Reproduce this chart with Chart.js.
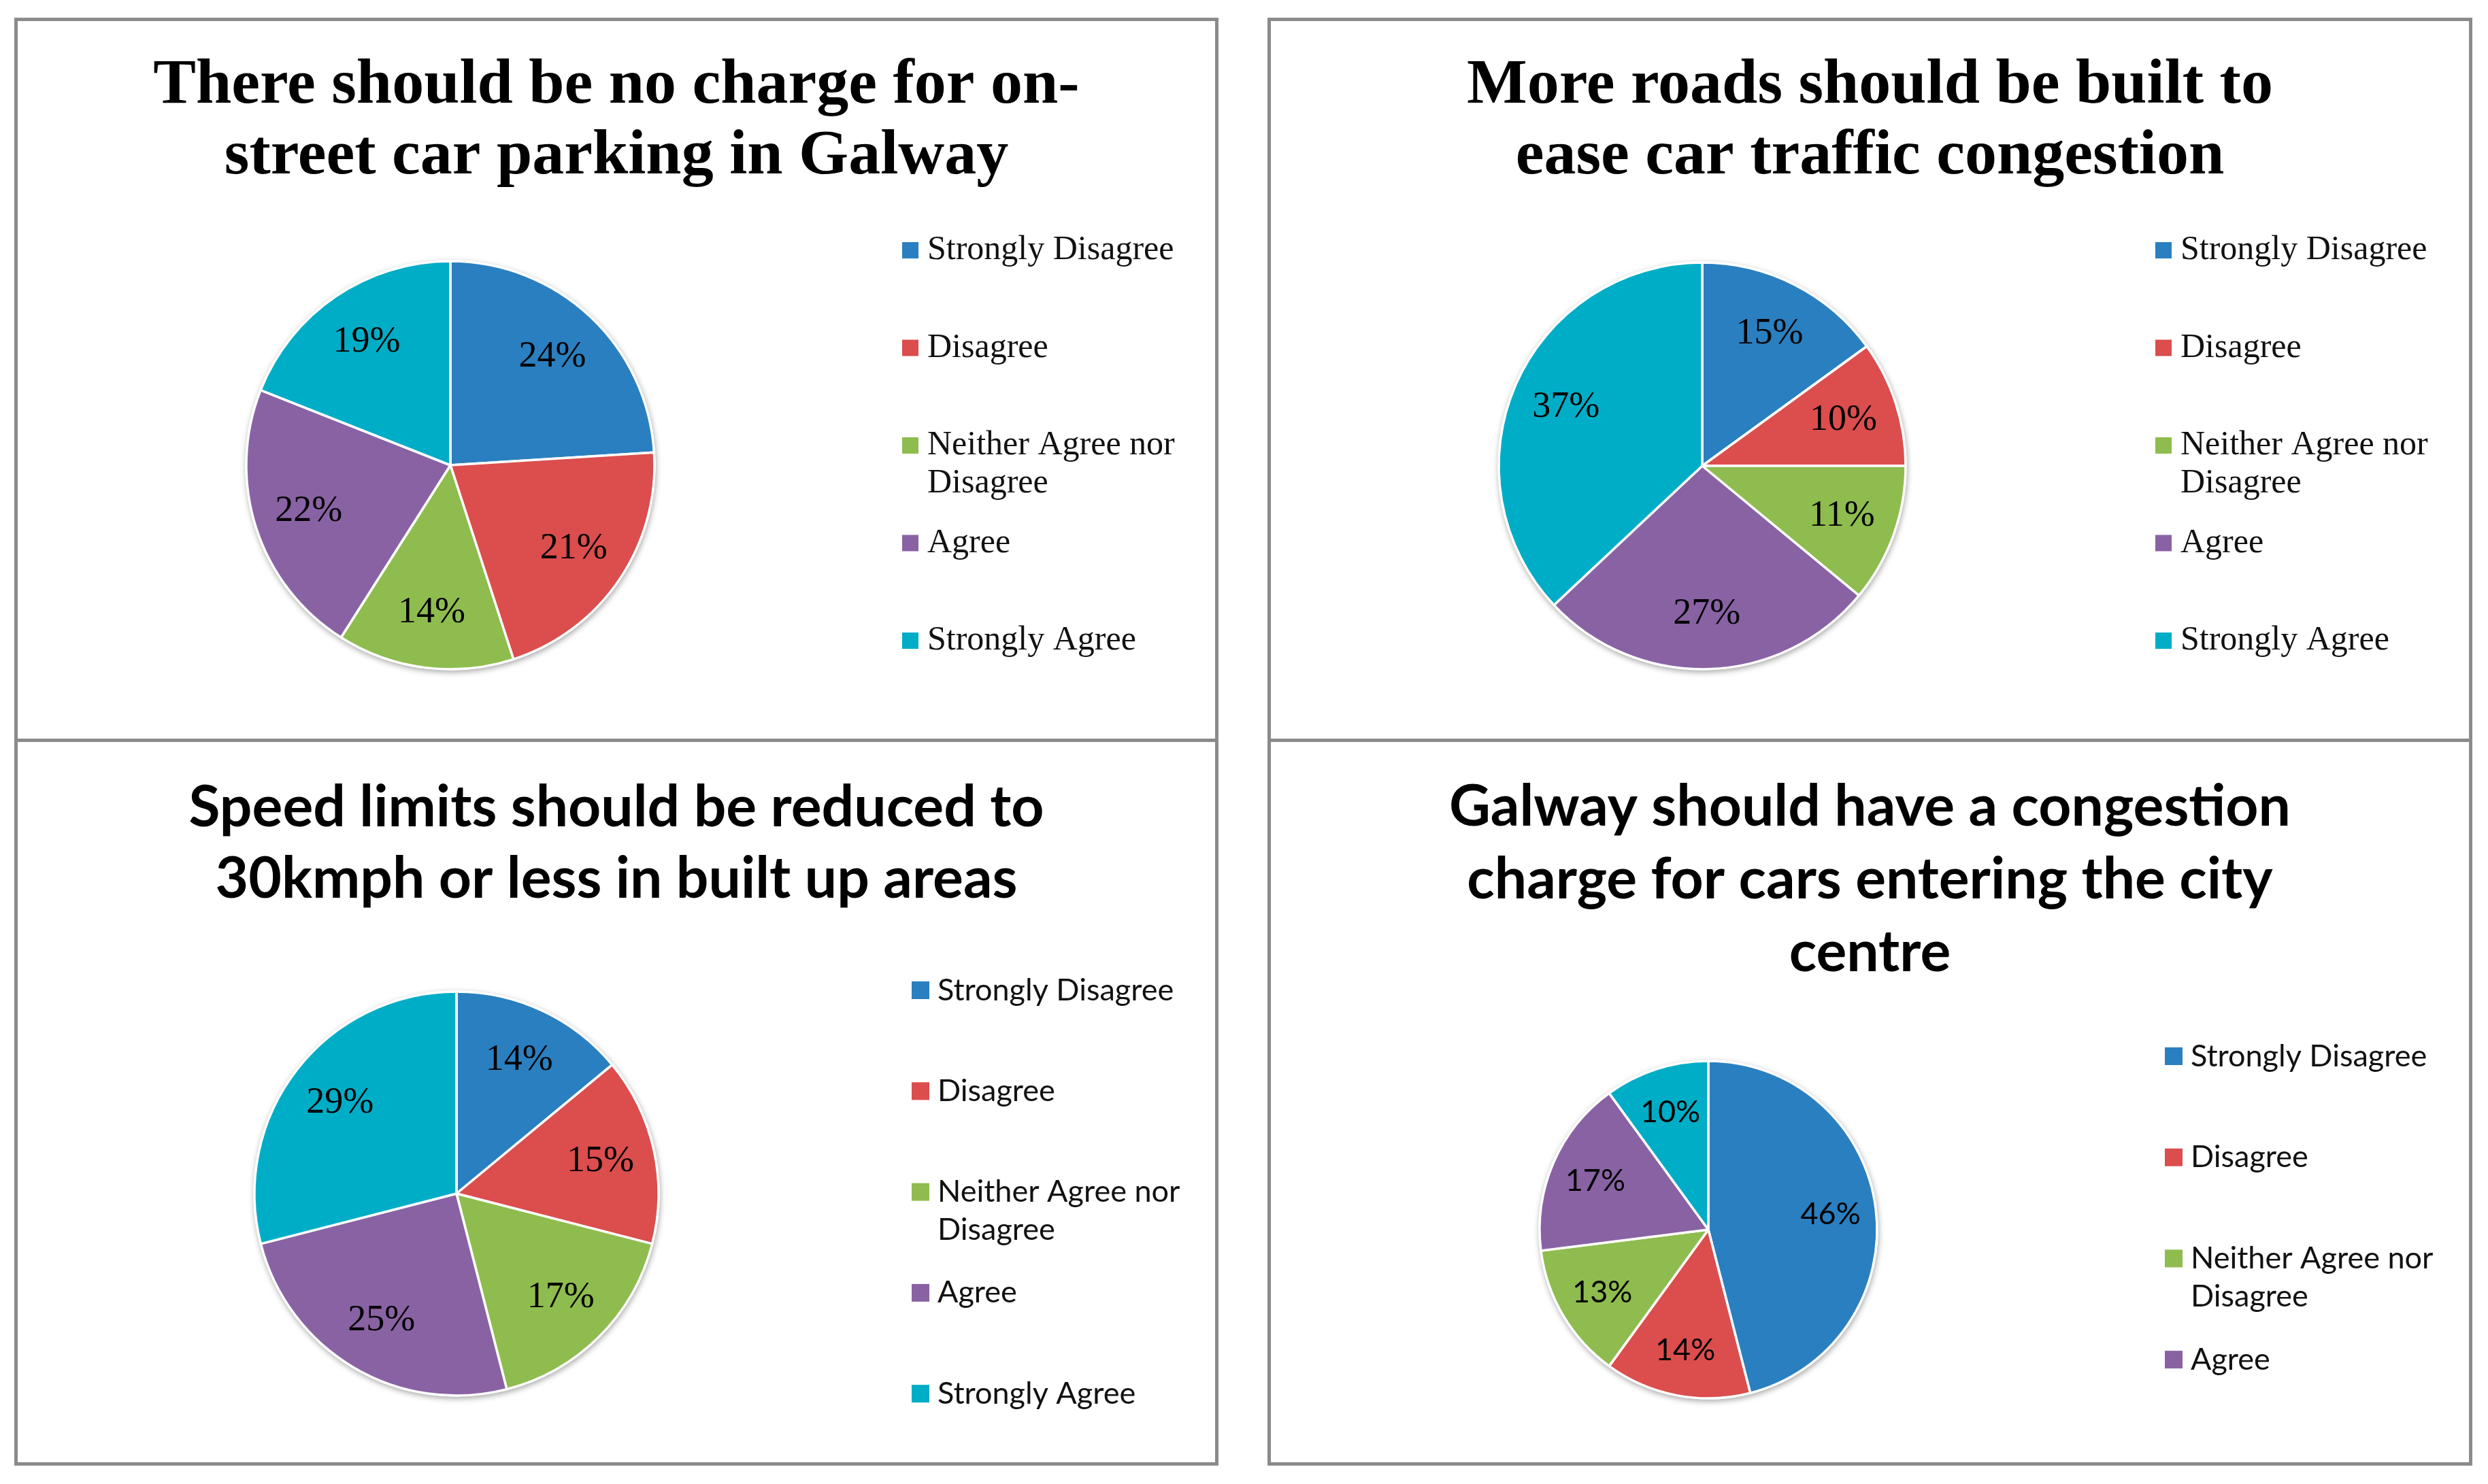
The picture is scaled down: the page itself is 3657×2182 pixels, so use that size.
<!DOCTYPE html>
<html>
<head>
<meta charset="utf-8">
<script src="https://cdn.jsdelivr.net/npm/chart.js@4.4.1/dist/chart.umd.min.js"></script>
<style>
  html, body { margin: 0; padding: 0; background: #fff; }
  body { width: 3657px; height: 2182px; position: relative; overflow: hidden; }
  .panel { position: absolute; box-sizing: border-box; border: 5px solid #8b8b8b; background: #fff; }
  .panel canvas { position: absolute; left: 0; top: 0; }
</style>
</head>
<body>
<div class="panel" id="p1" style="left:21px;top:26px;width:1770px;height:1068px"><canvas id="c1"></canvas></div>
<div class="panel" id="p2" style="left:1863px;top:26px;width:1771px;height:1068px"><canvas id="c2"></canvas></div>
<div class="panel" id="p3" style="left:21px;top:1086px;width:1770px;height:1069px"><canvas id="c3"></canvas></div>
<div class="panel" id="p4" style="left:1863px;top:1086px;width:1771px;height:1069px"><canvas id="c4"></canvas></div>

<script>
// answers, in the order the slices run clockwise from 12 o'clock
const categories = ["Strongly Disagree", "Disagree", "Neither Agree nor Disagree", "Agree", "Strongly Agree"];

const parkingTitle = ["There should be no charge for on-", "street car parking in Galway"];
const parkingValues = [24, 21, 14, 22, 19];

const roadsTitle = ["More roads should be built to", "ease car traffic congestion"];
const roadsValues = [15, 10, 11, 27, 37];

const speedTitle = ["Speed limits should be reduced to", "30kmph or less in built up areas"];
const speedValues = [14, 15, 17, 25, 29];

const congestionTitle = ["Galway should have a congestion", "charge for cars entering the city", "centre"];
const congestionValues = [46, 14, 13, 17, 10];

const colors = ["#2a7fc0", "#dc4d4d", "#8fbc4e", "#8962a4", "#00adc6"];

const serif = "'Liberation Serif', 'DejaVu Serif', serif";
const sans = "Lato, 'Open Sans', sans-serif";

function wrapText(ctx, text, maxWidth) {
  const words = text.split(" ");
  const lines = [];
  let line = "";
  words.forEach((w) => {
    const test = line ? line + " " + w : w;
    if (line && ctx.measureText(test).width > maxWidth) {
      lines.push(line);
      line = w;
    } else {
      line = test;
    }
  });
  lines.push(line);
  return lines;
}

function shadowPlugin() {
  return {
    id: "pieShadow",
    beforeDatasetsDraw(chart) {
      const arc = chart.getDatasetMeta(0).data[0];
      const p = arc.getProps(["x", "y", "outerRadius"], true);
      const ctx = chart.ctx;
      ctx.save();
      ctx.shadowColor = "rgba(0,0,0,0.35)";
      ctx.shadowBlur = 9;
      ctx.shadowOffsetX = 1;
      ctx.shadowOffsetY = 3;
      ctx.fillStyle = "#fff";
      ctx.beginPath();
      ctx.arc(p.x, p.y, p.outerRadius + 1.5, 0, Math.PI * 2);
      ctx.fill();
      ctx.restore();
    },
  };
}

function titlePlugin(text, t) {
  return {
    id: "panelTitle",
    afterDraw(chart) {
      const ctx = chart.ctx;
      ctx.save();
      ctx.fillStyle = "#000";
      ctx.font = `bold ${t.size}px ${t.family}`;
      ctx.textAlign = "center";
      ctx.textBaseline = "alphabetic";
      text.forEach((line, i) => {
        ctx.fillText(line, chart.width / 2, t.baseline + i * t.lineHeight);
      });
      ctx.restore();
    },
  };
}

function labelsPlugin(values, l) {
  return {
    id: "pctLabels",
    afterDatasetsDraw(chart) {
      const ctx = chart.ctx;
      const meta = chart.getDatasetMeta(0);
      ctx.save();
      ctx.font = `${l.size}px ${l.family}`;
      ctx.fillStyle = "#000";
      ctx.textAlign = "center";
      ctx.textBaseline = "middle";
      meta.data.forEach((arc, i) => {
        const p = arc.getProps(["x", "y", "startAngle", "endAngle", "outerRadius"], true);
        const mid = (p.startAngle + p.endAngle) / 2;
        const d = p.outerRadius * 0.73;
        ctx.fillText(values[i] + "%", p.x + Math.cos(mid) * d, p.y + Math.sin(mid) * d);
      });
      ctx.restore();
    },
  };
}

function legendPlugin(g) {
  return {
    id: "sideLegend",
    afterDraw(chart) {
      const ctx = chart.ctx;
      const fills = chart.data.datasets[0].backgroundColor;
      ctx.save();
      ctx.font = `${g.size}px ${g.family}`;
      ctx.textAlign = "left";
      ctx.textBaseline = "middle";
      chart.data.labels.slice(0, g.count).forEach((label, i) => {
        const y = g.y0 + i * g.step;
        ctx.fillStyle = fills[i];
        ctx.fillRect(g.markerX, y - g.box / 2, g.box, g.box);
        ctx.fillStyle = "#111";
        wrapText(ctx, label, g.maxWidth).forEach((line, j) => {
          ctx.fillText(line, g.textX, y + j * g.lineStep);
        });
      });
      ctx.restore();
    },
  };
}

function makePie(id, title, values, s) {
  const el = document.getElementById(id);
  const box = el.parentElement;
  const ox = box.offsetLeft + 5;
  const oy = box.offsetTop + 5;
  const cw = box.offsetWidth - 10;
  const ch = box.offsetHeight - 10;
  el.width = cw;
  el.height = ch;
  el.style.width = cw + "px";
  el.style.height = ch + "px";

  const cx = s.cx - ox;
  const cy = s.cy - oy;
  const m = 12;

  return new Chart(el, {
    type: "pie",
    data: {
      labels: categories,
      datasets: [
        {
          data: values,
          backgroundColor: colors,
          borderColor: "#ffffff",
          borderWidth: 3.5,
          radius: s.r,
          hoverOffset: 0,
        },
      ],
    },
    options: {
      responsive: false,
      animation: false,
      devicePixelRatio: 1,
      layout: {
        padding: {
          left: cx - s.r - m,
          right: cw - (cx + s.r + m),
          top: cy - s.r - m,
          bottom: ch - (cy + s.r + m),
        },
      },
      plugins: {
        legend: { display: false },
        tooltip: { enabled: false },
      },
    },
    plugins: [
      shadowPlugin(),
      labelsPlugin(values, s.labels),
      titlePlugin(title, { ...s.title, baseline: s.title.baseline - oy }),
      legendPlugin({
        ...s.legend,
        markerX: s.legend.markerX - ox,
        textX: s.legend.textX - ox,
        y0: s.legend.y0 - oy,
      }),
    ],
  });
}

makePie("c1", parkingTitle, parkingValues, {
  cx: 662, cy: 684, r: 300,
  title: { family: serif, size: 94, baseline: 151, lineHeight: 104 },
  labels: { family: serif, size: 54 },
  legend: { family: serif, size: 50, markerX: 1326, textX: 1363, box: 24, y0: 368, step: 143.5, lineStep: 56, maxWidth: 410, count: 5 },
});

makePie("c2", roadsTitle, roadsValues, {
  cx: 2502, cy: 685, r: 299,
  title: { family: serif, size: 94, baseline: 151, lineHeight: 104 },
  labels: { family: serif, size: 54 },
  legend: { family: serif, size: 50, markerX: 3168, textX: 3205, box: 24, y0: 368, step: 143.5, lineStep: 56, maxWidth: 410, count: 5 },
});

makePie("c3", speedTitle, speedValues, {
  cx: 671, cy: 1755, r: 297,
  title: { family: sans, size: 84, baseline: 1215, lineHeight: 105 },
  labels: { family: serif, size: 54 },
  legend: { family: sans, size: 45, markerX: 1340, textX: 1378, box: 26, y0: 1456, step: 148.3, lineStep: 56, maxWidth: 420, count: 5 },
});

// the last legend entry does not fit in this panel
makePie("c4", congestionTitle, congestionValues, {
  cx: 2511, cy: 1808, r: 248,
  title: { family: sans, size: 84, baseline: 1214, lineHeight: 107 },
  labels: { family: sans, size: 45 },
  legend: { family: sans, size: 45, markerX: 3182, textX: 3220, box: 26, y0: 1553, step: 148.7, lineStep: 56, maxWidth: 400, count: 4 },
});
</script>
</body>
</html>
